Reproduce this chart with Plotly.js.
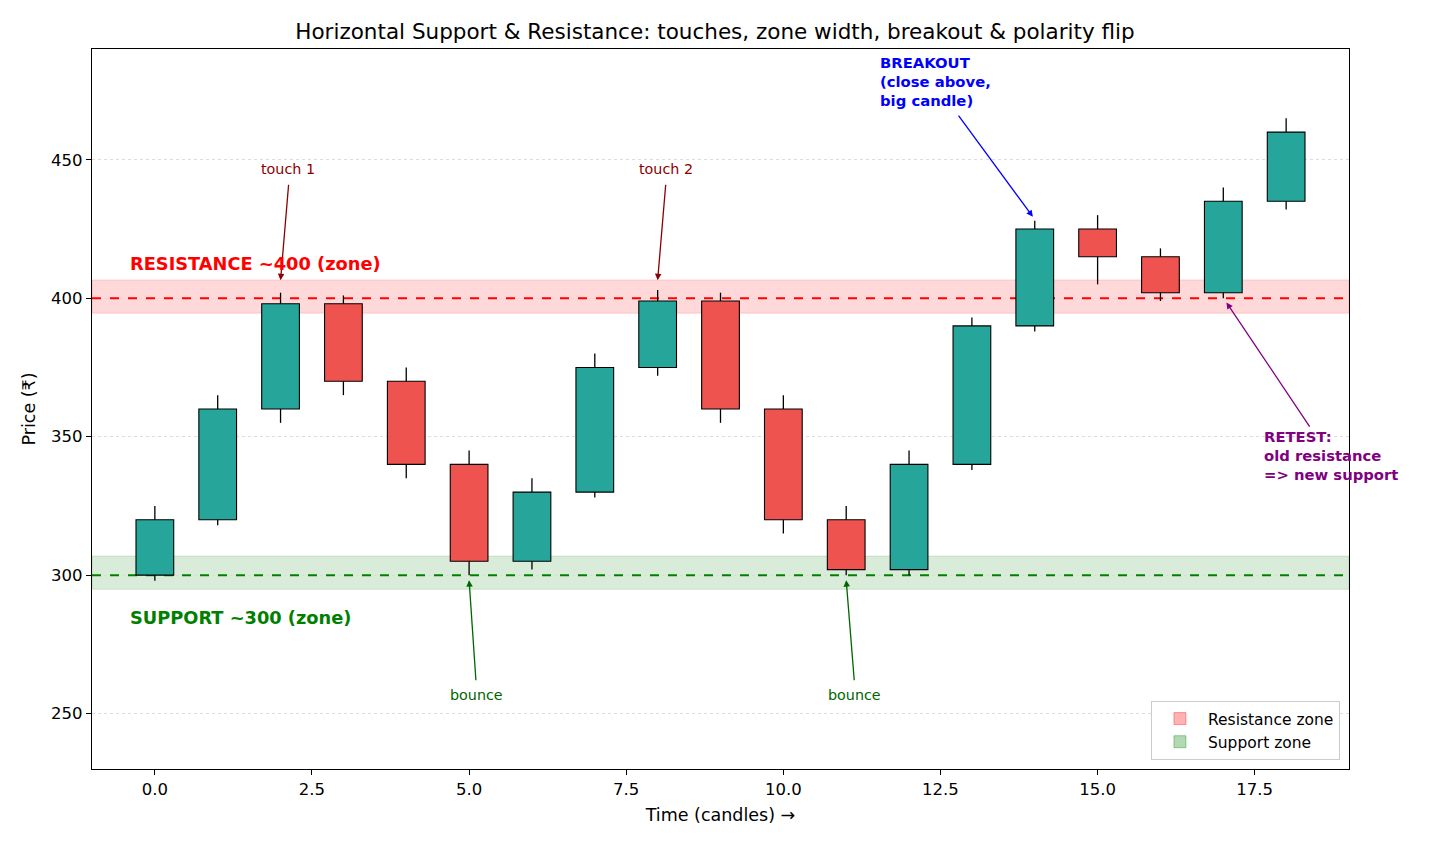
<!DOCTYPE html>
<html>
<head>
<meta charset="utf-8">
<script src="https://cdn.plot.ly/plotly-3.0.1.min.js"></script>
<style>html,body{margin:0;padding:0;background:#fff}#chart{width:1430px;height:845px}</style>
</head>
<body>
<div id="chart"></div>
<script>
const candleIdx = [0,1,2,3,4,5,6,7,8,9,10,11,12,13,14,15,16,17,18];
const openVals  = [300,320,360,398,370,340,305,330,375,399,360,320,302,340,390,425,415,402,435];
const closeVals = [320,360,398,370,340,305,330,375,399,360,320,302,340,390,425,415,402,435,460];
const highVals  = [325,365,402,401,375,345,335,380,403,402,365,325,345,393,428,430,418,440,465];
const lowVals   = [298,318,355,365,335,300,302,328,372,355,315,300,300,338,388,405,399,400,432];

const resistanceLevel = 400;
const supportLevel = 300;
const resistanceZone = [394.6, 406.6];
const supportZone = [294.9, 306.9];

const xRange = [-1, 19];
const yRange = [230, 490];
const xTicks = [0, 2.5, 5, 7.5, 10, 12.5, 15, 17.5];
const yTicks = [250, 300, 350, 400, 450];

const UP = '#26a69a', DOWN = '#ef5350';
const FONT = 'DejaVu Sans, sans-serif';

const bodyBase = [], bodyLen = [], bodyColor = [];
const wx = [], wy = [];
candleIdx.forEach((x, i) => {
  const o = openVals[i], c = closeVals[i];
  const lo = Math.min(o, c), hi = Math.max(o, c);
  bodyBase.push(lo); bodyLen.push(hi - lo);
  bodyColor.push(c >= o ? UP : DOWN);
  wx.push(x, x, null, x, x, null);
  wy.push(lowVals[i], lo, null, hi, highVals[i], null);
});

const traces = [
  {type:'scatter', mode:'lines', x:xRange, y:[resistanceLevel, resistanceLevel],
   line:{color:'#ff0000', width:2, dash:'dash'}, showlegend:false, hoverinfo:'skip'},
  {type:'scatter', mode:'lines', x:xRange, y:[supportLevel, supportLevel],
   line:{color:'#008000', width:2, dash:'dash'}, showlegend:false, hoverinfo:'skip'},
  {type:'bar', x:[null], y:[null], name:'Resistance zone',
   marker:{color:'rgba(255,0,0,0.3)', line:{color:'rgba(255,0,0,0.35)', width:1}}},
  {type:'bar', x:[null], y:[null], name:'Support zone',
   marker:{color:'rgba(0,128,0,0.3)', line:{color:'rgba(0,128,0,0.35)', width:1}}},
  {type:'bar', x:candleIdx, y:bodyLen, base:bodyBase, width:0.6, xaxis:'x2', yaxis:'y2',
   marker:{color:bodyColor, line:{color:'#000', width:1.1}}, showlegend:false, hoverinfo:'skip'},
  {type:'scatter', mode:'lines', x:wx, y:wy, xaxis:'x2', yaxis:'y2', line:{color:'#000', width:1.3},
   showlegend:false, hoverinfo:'skip', connectgaps:false}
];

const shapes = [
  {type:'rect', xref:'paper', x0:0, x1:1, yref:'y', y0:resistanceZone[0], y1:resistanceZone[1],
   fillcolor:'rgba(255,0,0,0.15)', line:{color:'rgba(255,0,0,0.15)', width:1}, layer:'between'},
  {type:'rect', xref:'paper', x0:0, x1:1, yref:'y', y0:supportZone[0], y1:supportZone[1],
   fillcolor:'rgba(0,128,0,0.15)', line:{color:'rgba(0,128,0,0.15)', width:1}, layer:'between'}
];

function arrow(tx, ty, hx, hy, color) {
  return {x:hx, y:hy, ax:tx, ay:ty, xref:'x', yref:'y', axref:'x', ayref:'y', text:'',
    showarrow:true, arrowhead:2, arrowsize:1, arrowwidth:1.3, arrowcolor:color, standoff:0, startstandoff:0};
}
function label(x, y, text, color, size, bold, anchor) {
  return {x:x, y:y, xref:'x', yref:'y', text: bold ? '<b>'+text+'</b>' : text, showarrow:false,
    xanchor:anchor || 'center', yanchor:'middle', align:anchor === 'left' ? 'left' : 'center',
    font:{family:FONT, size:size, color:color}};
}

const annotations = [
  label(2.12, 446.8, 'touch 1', '#8b0000', 14.3, false),
  arrow(2.13, 441.5, 2.0, 406.5, '#8b0000'),
  label(8.14, 446.8, 'touch 2', '#8b0000', 14.3, false),
  arrow(8.13, 441.5, 8.0, 406.5, '#8b0000'),
  label(5.11, 256.8, 'bounce', '#006400', 14.3, false),
  arrow(5.11, 261.5, 5.0, 298.2, '#006400'),
  label(11.13, 256.8, 'bounce', '#006400', 14.3, false),
  arrow(11.13, 261.5, 11.0, 298.2, '#006400'),
  label(11.5, 478.2, 'BREAKOUT<br>(close above,<br>big candle)', '#0000ff', 14.8, true, 'left'),
  arrow(12.77, 466.5, 13.97, 429.4, '#0000ff'),
  label(17.61, 343.3, 'RETEST:<br>old resistance<br>=> new support', '#800080', 14.8, true, 'left'),
  arrow(18.39, 353.1, 17.05, 398.5, '#800080'),
  label(-0.42, 412.5, 'RESISTANCE ~400 (zone)', '#ff0000', 17.8, true, 'left'),
  label(-0.42, 284.6, 'SUPPORT ~300 (zone)', '#008000', 17.8, true, 'left')
];

const layout = {
  width:1430, height:845,
  margin:{l:92, r:81, t:49, b:76},
  paper_bgcolor:'#fff', plot_bgcolor:'#fff',
  font:{family:FONT, size:16.5, color:'#000'},
  barmode:'overlay',
  title:{text:'Horizontal Support & Resistance: touches, zone width, breakout & polarity flip',
    font:{family:FONT, size:21.5, color:'#000'}, x:0.5, xanchor:'center', y:0.963, yanchor:'middle'},
  xaxis:{range:xRange, tickvals:xTicks, ticktext:xTicks.map(v=>v.toFixed(1)), showgrid:false, zeroline:false,
    showline:true, linecolor:'#000', linewidth:1.2, mirror:true, ticks:'outside', ticklen:5, tickcolor:'#000',
    tickfont:{family:FONT, size:16.5}, title:{text:'Time (candles) →', font:{family:FONT, size:17.5}, standoff:10}},
  yaxis:{range:yRange, tickvals:yTicks, showgrid:true, gridcolor:'#dddddd', griddash:'dot', gridwidth:1,
    zeroline:false, showline:true, linecolor:'#000', linewidth:1.2, mirror:true, ticks:'outside', ticklen:5,
    tickcolor:'#000', tickfont:{family:FONT, size:16.5}, title:{text:'Price (₹)', font:{family:FONT, size:17.5}, standoff:10}},
  xaxis2:{overlaying:'x', range:xRange, visible:false, showgrid:false, zeroline:false},
  yaxis2:{overlaying:'y', range:yRange, visible:false, showgrid:false, zeroline:false},
  legend:{x:0.9928, y:0.0125, xanchor:'right', yanchor:'bottom', bgcolor:'rgba(255,255,255,0.9)',
    bordercolor:'#cccccc', borderwidth:1, font:{family:FONT, size:15.5}, itemwidth:46,
    tracegroupgap:4},
  shapes:shapes, annotations:annotations
};

Plotly.newPlot('chart', traces, layout, {displayModeBar:false, staticPlot:true});
</script>
</body>
</html>
